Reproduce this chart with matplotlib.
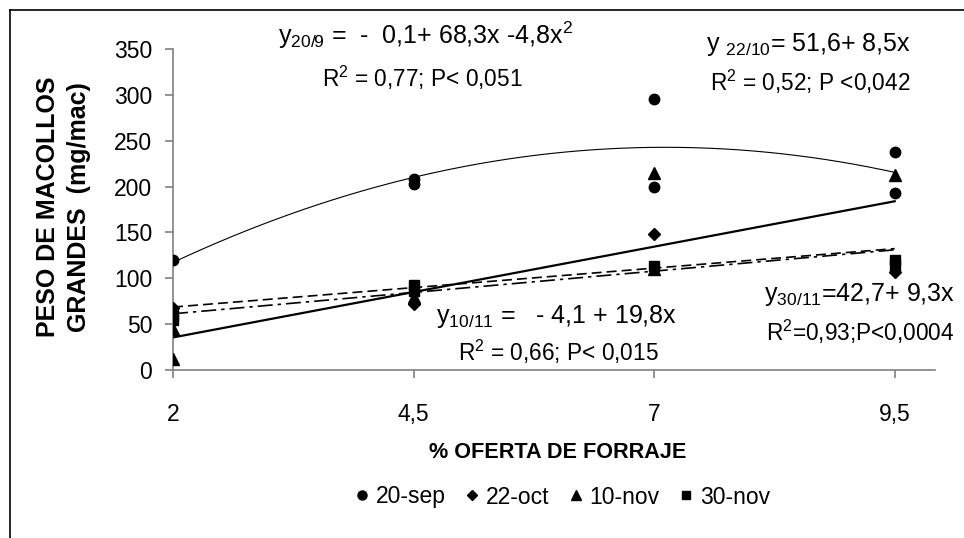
import numpy as np
import matplotlib
matplotlib.use("Agg")
import matplotlib.pyplot as plt
from matplotlib.lines import Line2D

plt.rcParams['font.family'] = ['Liberation Sans', 'DejaVu Sans']
plt.rcParams['mathtext.fontset'] = 'custom'
plt.rcParams['mathtext.rm'] = 'Liberation Sans'
plt.rcParams['mathtext.it'] = 'Liberation Sans:italic'

# data (x = % oferta de forraje)
x_sep20 = [2, 4.5, 4.5, 7, 7, 9.5, 9.5]
y_sep20 = [120, 203, 208, 295, 200, 238, 193]
x_oct22 = [2, 4.5, 7, 9.5]
y_oct22 = [68, 72, 148, 107]
x_nov10 = [2, 2, 4.5, 7, 7, 9.5]
y_nov10 = [45, 12, 80, 215, 110, 213]
x_nov30 = [2, 2, 4.5, 4.5, 7, 9.5, 9.5]
y_nov30 = [60, 55, 93, 86, 113, 120, 115]

# fitted equations as printed on the chart (highest power first)
coef_sep20 = [-4.8, 68.3, -0.1]
coef_oct22 = [8.5, 51.6]
coef_nov10 = [19.8, -4.1]
coef_nov30 = [9.3, 42.7]

x_ticks = [2, 4.5, 7, 9.5]
x_ticklabels = ['2', '4,5', '7', '9,5']
y_ticks = [0, 50, 100, 150, 200, 250, 300, 350]

fig = plt.figure(figsize=(9.64, 5.38), dpi=100)
ax = fig.add_axes([0.1795, 0.3123, 0.7905, 0.5965])

xx = np.linspace(2, 9.5, 200)
ax.plot(xx, np.polyval(coef_sep20, xx), color='k', lw=0.8)
ax.plot(xx, np.polyval(coef_oct22, xx), color='k', lw=1.2, linestyle=(0, (6, 3)))
ax.plot(xx, np.polyval(coef_nov10, xx), color='k', lw=1.6)
ax.plot(xx, np.polyval(coef_nov30, xx), color='k', lw=1.2, linestyle=(0, (9, 3, 2, 3)))

ms = 7.5
ax.plot(x_sep20, y_sep20, 'o', color='k', ms=ms, ls='none', zorder=3)
ax.plot(x_oct22, y_oct22, 'D', color='k', ms=ms - 1, ls='none', zorder=3)
ax.plot(x_nov10, y_nov10, '^', color='k', ms=ms + 0.5, ls='none', zorder=3)
ax.plot(x_nov30, y_nov30, 's', color='k', ms=ms - 0.5, ls='none', zorder=3)

ax.set_xlim(2, 9.92)
ax.set_ylim(0, 350)
ax.set_xticks(x_ticks)
ax.set_xticklabels(x_ticklabels)
ax.set_yticks(y_ticks)
for s in ['top', 'right']:
    ax.spines[s].set_visible(False)
for s in ['left', 'bottom']:
    ax.spines[s].set_color('#808080')
    ax.spines[s].set_linewidth(1.2)
ax.spines['left'].set_zorder(0)
ax.tick_params(axis='both', colors='#808080', labelcolor='k', labelsize=16.5, length=6, width=1.2)
ax.tick_params(axis='x', pad=18)
ax.tick_params(axis='y', pad=9)

fig.text(0.578, 1 - 452 / 538, '% OFERTA DE FORRAJE', ha='center', va='center',
         fontsize=15.6, fontweight='bold')
fig.text(0.066, 1 - 207 / 538, 'PESO DE MACOLLOS\nGRANDES  (mg/mac)', ha='center', va='center',
         rotation=90, fontsize=18, fontweight='bold', linespacing=1.35)

eq_fs = 18
r_fs = 16.3
fig.text(278 / 964, 1 - 35 / 538, r'y$\mathregular{_{20/9}}$ =  -  0,1+ 68,3x -4,8x$\mathregular{^2}$',
         ha='left', va='center', fontsize=eq_fs)
fig.text(422 / 964, 1 - 78 / 538, r'R$\mathregular{^2}$ = 0,77; P< 0,051',
         ha='center', va='center', fontsize=r_fs)
fig.text(706 / 964, 1 - 44 / 538, r'y $\mathregular{_{22/10}}$= 51,6+ 8,5x',
         ha='left', va='center', fontsize=eq_fs)
fig.text(810 / 964, 1 - 82 / 538, r'R$\mathregular{^2}$ = 0,52; P <0,042',
         ha='center', va='center', fontsize=r_fs)
fig.text(436 / 964, 1 - 316 / 538, r'y$\mathregular{_{10/11}}$ =   - 4,1 + 19,8x',
         ha='left', va='center', fontsize=eq_fs)
fig.text(558 / 964, 1 - 352 / 538, r'R$\mathregular{^2}$ = 0,66; P< 0,015',
         ha='center', va='center', fontsize=r_fs)
fig.text(764 / 964, 1 - 295 / 538, r'y$\mathregular{_{30/11}}$=42,7+ 9,3x',
         ha='left', va='center', fontsize=eq_fs)
fig.text(860 / 964, 1 - 332 / 538, r'R$\mathregular{^2}$=0,93;P<0,0004',
         ha='center', va='center', fontsize=r_fs)

handles = [Line2D([], [], marker='o', color='k', ls='none', ms=6.5),
           Line2D([], [], marker='D', color='k', ls='none', ms=5.5),
           Line2D([], [], marker='^', color='k', ls='none', ms=7),
           Line2D([], [], marker='s', color='k', ls='none', ms=6)]
fig.legend(handles, ['20-sep', '22-oct', '10-nov', '30-nov'], loc='center',
           bbox_to_anchor=(561 / 964, 1 - 497 / 538), ncol=4, frameon=False,
           fontsize=16.5, handletextpad=0.15, columnspacing=0.7, handlelength=0.9)

# figure border (top and left edges visible in the original)
fig.add_artist(Line2D([10 / 964, 1], [1 - 10 / 538, 1 - 10 / 538], color='k', lw=1.2))
fig.add_artist(Line2D([10 / 964, 10 / 964], [0, 1 - 10 / 538], color='k', lw=1.2))

fig.savefig('out.png', dpi=100)
